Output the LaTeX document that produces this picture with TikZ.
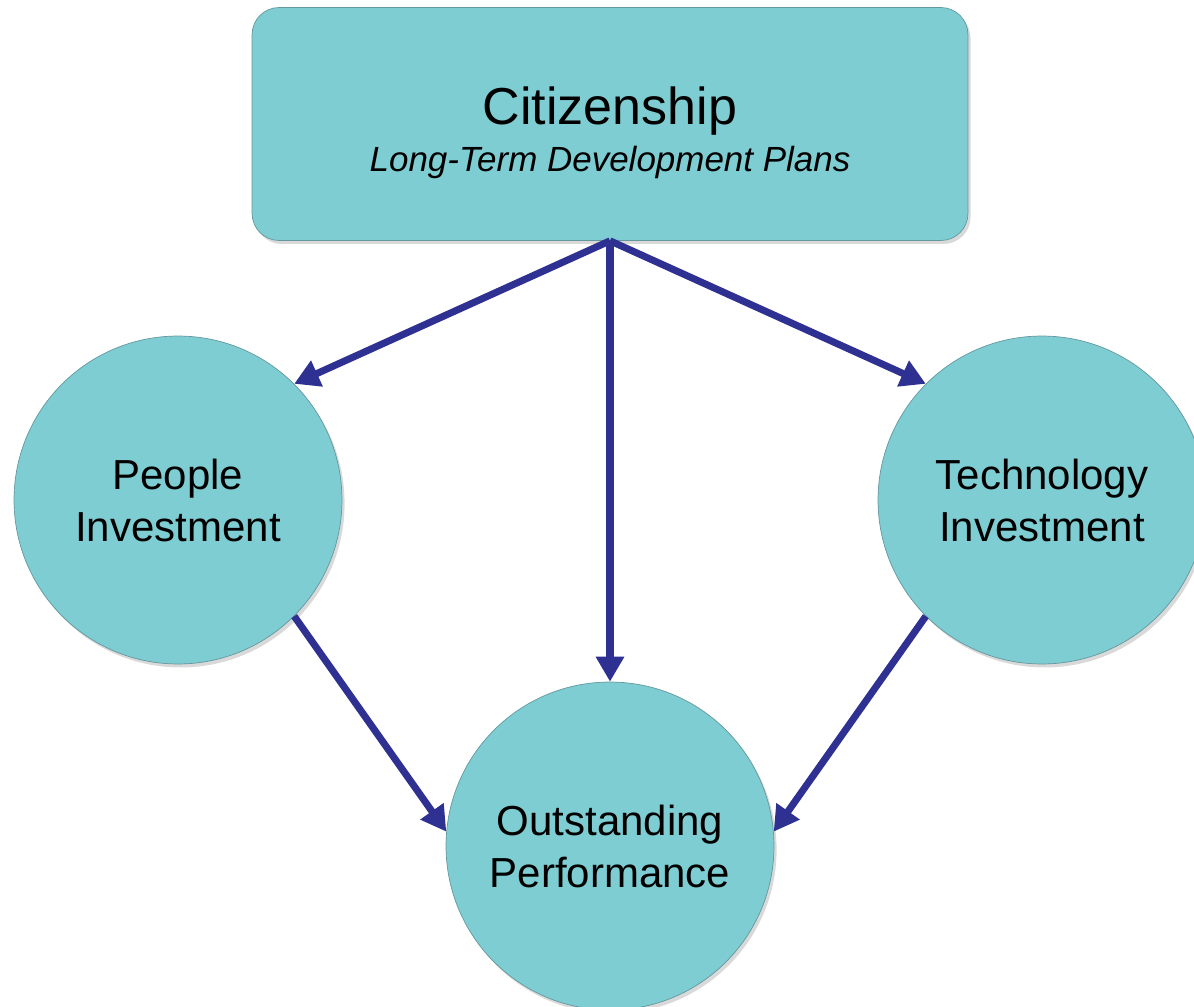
\documentclass[tikz,border=0pt]{standalone}
\usepackage{fontspec}
\setmainfont{Liberation Sans}
\usetikzlibrary{arrows.meta, positioning, shadows}
\definecolor{citteal}{RGB}{126,205,211}
\definecolor{citedge}{RGB}{98,152,158}
\definecolor{citblue}{RGB}{46,49,146}

\begin{document}
\begin{tikzpicture}[x=0.02cm, y=-0.02cm]
    \tikzstyle{topbox} = [rectangle, rounded corners=0.54cm, draw=citedge, fill=citteal, minimum width=14.32cm, minimum height=4.66cm, align=center, drop shadow={opacity=0.3, shadow xshift=1.5pt, shadow yshift=-2pt}]
    \tikzstyle{disc} = [circle, draw=citedge, fill=citteal, minimum size=6.56cm, inner sep=0pt, align=center, font=\fontsize{23.9}{29.6}\selectfont, drop shadow={opacity=0.3, shadow xshift=1.5pt, shadow yshift=-2pt}]
    \tikzstyle{arrow} = [line width=4pt, -{Triangle[length=0.5cm, width=0.54cm]}, citblue]

    \useasboundingbox (0,0) rectangle (1194,1007);

    \node[topbox, text height=60pt, text depth=6pt] (cit) at (610,124) {\fontsize{29.6}{27.3}\selectfont Citizenship\\[5pt] \fontsize{19.9}{27.3}\selectfont\itshape Long-Term Development Plans};
    \node[disc] (people) at (178,500) {People\\Investment};
    \node[disc] (tech) at (1042,500) {Technology\\Investment};
    \node[disc] (perf) at (610,846) {Outstanding\\Performance};

    \draw[arrow] (cit.south) -- (people.45);
    \draw[arrow] (cit.south) -- (perf.north);
    \draw[arrow] (cit.south) -- (tech.135);
    \draw[arrow] (people.-45) -- (perf.175);
    \draw[arrow] (tech.-135) -- (perf.5);
\end{tikzpicture}
\end{document}
